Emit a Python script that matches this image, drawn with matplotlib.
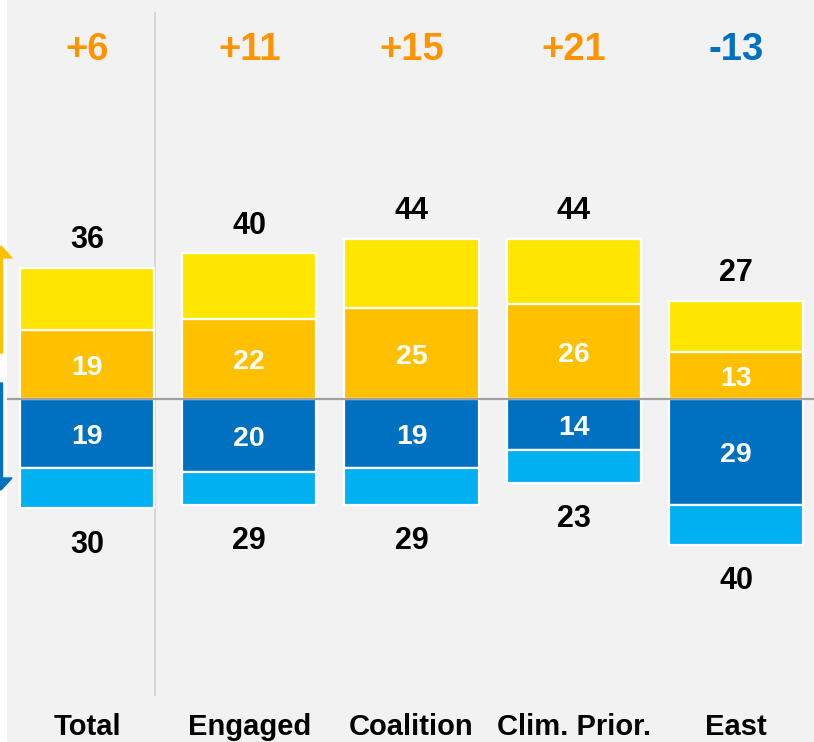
import matplotlib.pyplot as plt
import numpy as np
from matplotlib.patches import FancyArrow
from matplotlib.transforms import IdentityTransform

plt.rcParams['font.family'] = ['Liberation Sans', 'DejaVu Sans']

categories = ["Total", "Engaged", "Coalition", "Clim. Prior.", "East"]
pos_total = [36, 40, 44, 44, 27]   # support overall
pos_inner = [19, 22, 25, 26, 13]   # strong support
neg_total = [30, 29, 29, 23, 40]   # opposition overall
neg_inner = [19, 20, 19, 14, 29]   # strong opposition
net = [6, 11, 15, 21, -13]

c_yellow = "#FFE600"
c_orange = "#FFC000"
c_dblue = "#0070C0"
c_lblue = "#00B0F0"
c_net_pos = "#FF9400"
c_net_neg = "#0070C0"

W, H = 814, 742
fig = plt.figure(figsize=(W / 100, H / 100), dpi=100, facecolor="white")
ax = fig.add_axes([7 / W, 0, (W - 7) / W, 1])
ax.set_facecolor("#F2F2F2")

step = 162.25   # px between bar centres
ppu = 3.64      # px per percentage point
y0 = 399        # zero line, px from top
ax.set_xlim(-(87 - 7) / step, (W - 87) / step)
ax.set_ylim(-(H - y0) / ppu, y0 / ppu)

x = np.arange(len(categories))
bw = 0.826
pt = np.array(pos_total)
pi = np.array(pos_inner)
nt = np.array(neg_total)
ni = np.array(neg_inner)

kw = dict(width=bw, edgecolor="white", linewidth=1.6, zorder=2)
ax.bar(x, pi, color=c_orange, **kw)
ax.bar(x, pt - pi, bottom=pi, color=c_yellow, **kw)
ax.bar(x, -ni, color=c_dblue, **kw)
ax.bar(x, -(nt - ni), bottom=-ni, color=c_lblue, **kw)

# zero line and separator after "Total"
ax.axhline(0, color="#A0A0A0", linewidth=1.6, zorder=3)
ax.plot([(155 - 87) / step] * 2, [(y0 - 13) / ppu, -(695 - y0) / ppu],
        color="#D4D4D4", linewidth=1.3, zorder=1)


def label(xv, yc, s, fs, **kw):
    # place text so that the digits/caps are centred on yc (data units)
    cap = fs * 100 / 72 * 0.716 / ppu
    ax.text(xv, yc - cap / 2, s, ha="center", va="baseline",
            fontsize=fs, fontweight="bold", **kw)


for i in range(len(categories)):
    label(x[i], pi[i] / 2, str(pi[i]), 20.5, color="white", zorder=4)
    label(x[i], -ni[i] / 2, str(ni[i]), 20.5, color="white", zorder=4)
    label(x[i], pt[i] + 30.5 / ppu, str(pt[i]), 22, color="black")
    label(x[i], -nt[i] - 33.5 / ppu, str(nt[i]), 22, color="black")
    s = f"+{net[i]}" if net[i] > 0 else f"{net[i]}"
    label(x[i], (y0 - 46) / ppu, s, 27.5,
          color=c_net_pos if net[i] > 0 else c_net_neg)
    label(x[i], -(725 - y0) / ppu, categories[i], 21, color="black")

ax.set_xticks([])
ax.set_yticks([])
for s in ax.spines.values():
    s.set_visible(False)

# arrows at left edge (partly outside the figure)
fig.add_artist(FancyArrow(1, H - 353, 0, 107, width=3, head_width=22,
                          head_length=12, length_includes_head=True,
                          color="#FFC000", transform=IdentityTransform()))
fig.add_artist(FancyArrow(1, H - 383, 0, -107, width=3, head_width=22,
                          head_length=12, length_includes_head=True,
                          color="#0070C0", transform=IdentityTransform()))

fig.savefig("out.png", dpi=100, facecolor="white")
